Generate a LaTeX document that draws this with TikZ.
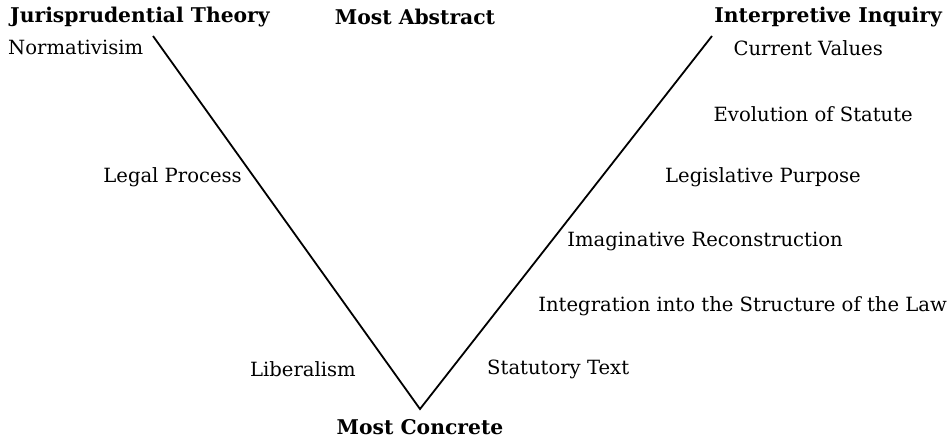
\documentclass[tikz,border=0pt]{standalone}
\usepackage{fontspec}
\setmainfont{DejaVu Serif}
\begin{document}
\begin{tikzpicture}[x=1pt,y=-1pt,
  lbl/.style={inner sep=0pt,font=\fontsize{19.6}{23}\selectfont},
  head/.style={lbl,font=\fontsize{20.3}{24}\selectfont\bfseries},
  vline/.style={line width=1.8pt}]
\useasboundingbox (0,0) rectangle (950,445);
% headings
\node[head,anchor=west] (jt) at (10,17) {Jurisprudential Theory};
\node[head] (ma) at (415,17) {Most Abstract};
\node[head,anchor=east] (ii) at (942,17) {Interpretive Inquiry};
\node[head] (mc) at (420,427) {Most Concrete};
% left column
\node[lbl,anchor=west] (nv) at (8,47) {Normativisim};
\node[lbl,anchor=east] (lp) at (242,177) {Legal Process};
\node[lbl,anchor=east] (lb) at (356,369) {Liberalism};
% right column
\node[lbl,anchor=east] (cv) at (883,48) {Current Values};
\node[lbl,anchor=east] (es) at (913,114) {Evolution of Statute};
\node[lbl,anchor=east] (lg) at (861,177) {Legislative Purpose};
\node[lbl,anchor=east] (ir) at (843,241) {Imaginative Reconstruction};
\node[lbl,anchor=east] (is) at (947,306) {Integration into the Structure of the Law};
\node[lbl,anchor=west] (st) at (487,369) {Statutory Text};
% the V
\coordinate (ltop) at (153,36);
\coordinate (bot) at (420,409);
\coordinate (rtop) at (712,36);
\draw[vline] (ltop) -- (bot) -- (rtop);
\end{tikzpicture}
\end{document}
